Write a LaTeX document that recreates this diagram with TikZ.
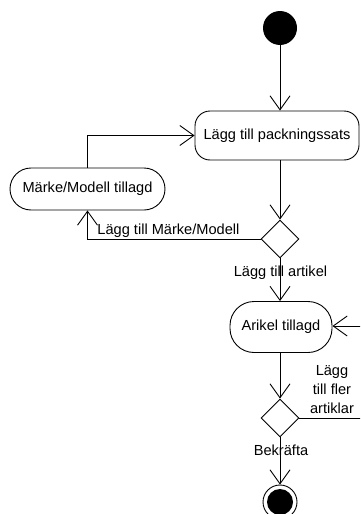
\documentclass[tikz,border=0pt]{standalone}
\usepackage{fontspec}
\setmainfont{Liberation Sans}
\usetikzlibrary{arrows.meta,shapes.geometric}
\begin{document}
\begin{tikzpicture}[x=1pt,y=-1pt,
  font=\fontsize{14.6}{18}\selectfont,
  line width=0.9pt,
  act/.style={draw, rounded corners=#1, inner sep=0pt, align=center},
  dec/.style={draw, diamond, minimum width=38pt, minimum height=38pt, inner sep=0pt},
  flow/.style={-{Straight Barb[length=14pt,width=20pt,line width=0.9pt]}},
  lbl/.style={inner sep=0pt}]
\useasboundingbox (0,0) rectangle (360,514);
\clip (0,0) rectangle (360,514);
\node[circle, fill=black, minimum size=34pt, inner sep=0pt] (start) at (280,28) {};
\node[act=15pt, minimum width=164pt, minimum height=49pt] (pack) at (277,135.5) {Lägg till packningssats};
\node[act=21pt, minimum width=155pt, minimum height=42pt] (marke) at (87.5,189) {Märke/Modell tillagd};
\node[dec] (d1) at (280,239) {};
\node[act=24pt, minimum width=102pt, minimum height=51pt] (arikel) at (281,327) {Arikel tillagd};
\node[dec] (d2) at (280,418) {};
\node[circle, draw, minimum size=34pt, inner sep=0pt] (end) at (280,502) {};
\fill (end.center) circle (13pt);
\coordinate (r1) at (362,418);
\coordinate (r2) at (362,326);

\draw[flow] (start.south) -- (start.south |- pack.north);
\draw[flow] (marke.north) |- (pack.west);
\draw[flow] (d1.north |- pack.south) -- (d1.north);
\draw[flow] (d1.west) -| (marke.south);
\draw[flow] (d1.south) -- (d1.south |- arikel.north);
\draw[flow] (d1.south |- arikel.south) -- (d2.north);
\draw[flow] (d2.east) -- (r1) -- (r2) -- (arikel.east |- r2);
\draw[flow] (d2.south) -- (end.north);

\node[lbl, anchor=base west] (l1) at (97,234) {Lägg till Märke/Modell};
\node[lbl, anchor=base] (l2) at (280.5,276) {Lägg till artikel};
\node[lbl, anchor=base] (l3) at (332,375) {Lägg};
\node[lbl, anchor=base] (l4) at (332,394) {till fler};
\node[lbl, anchor=base] (l5) at (332,413) {artiklar};
\node[lbl, anchor=base] (l6) at (281,455) {Bekräfta};
\end{tikzpicture}
\end{document}
